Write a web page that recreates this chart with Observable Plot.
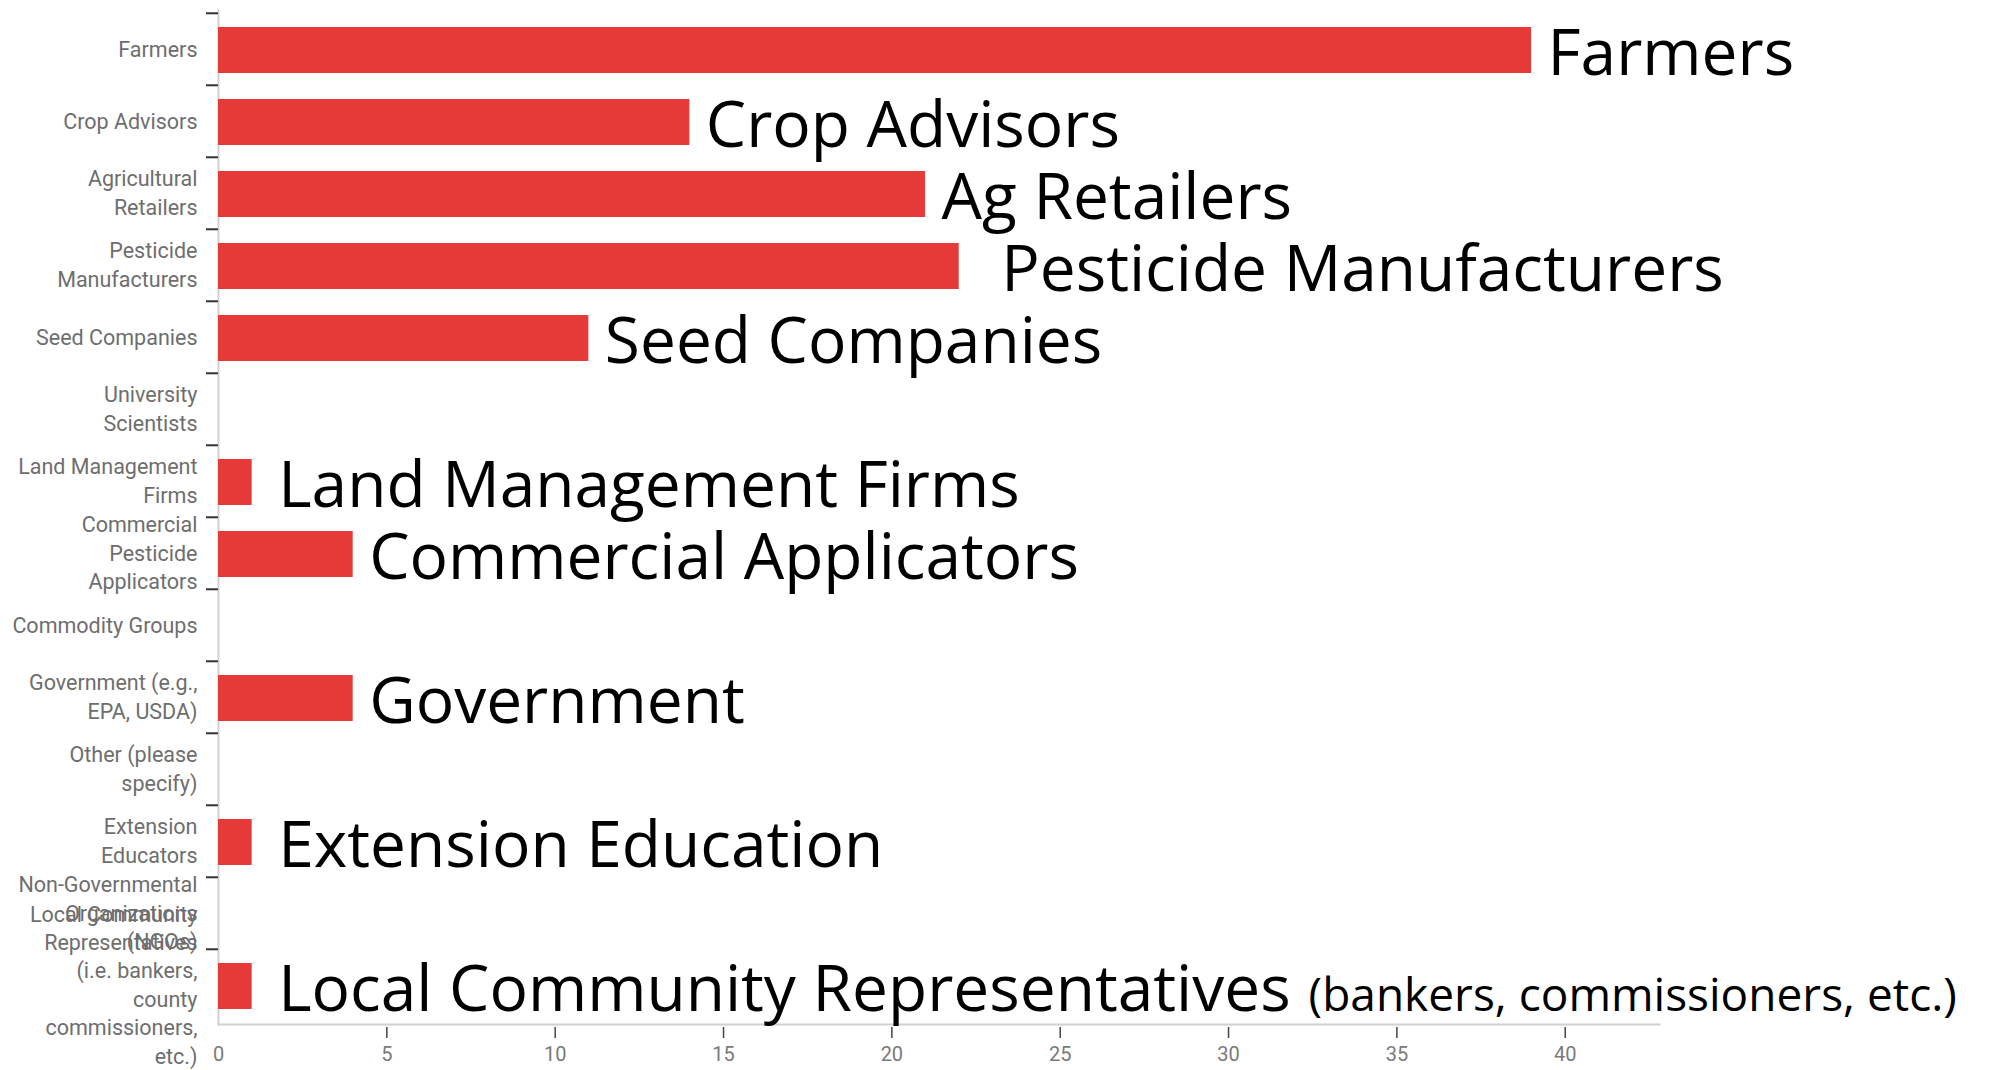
<!DOCTYPE html>
<html>
<head>
<meta charset="utf-8">
<script src="https://cdn.jsdelivr.net/npm/d3@7"></script>
<script src="https://cdn.jsdelivr.net/npm/@observablehq/plot@0.6"></script>
<style>
  html, body { margin: 0; padding: 0; background: #fff; }
  #chart svg { display: block; }
</style>
</head>
<body>
<div id="chart"></div>
<script>
const categories = [
  "Farmers",
  "Crop Advisors",
  "Agricultural Retailers",
  "Pesticide Manufacturers",
  "Seed Companies",
  "University Scientists",
  "Land Management Firms",
  "Commercial Pesticide Applicators",
  "Commodity Groups",
  "Government (e.g., EPA, USDA)",
  "Other (please specify)",
  "Extension Educators",
  "Non-Governmental Organizations (NGOs)",
  "Local Community Representatives (i.e. bankers, county commissioners, etc.)"
];
const values = [39, 14, 21, 22, 11, 0, 1, 4, 0, 4, 0, 1, 0, 1];
const tickLabels = [
  "Farmers",
  "Crop Advisors",
  "Agricultural\nRetailers",
  "Pesticide\nManufacturers",
  "Seed Companies",
  "University\nScientists",
  "Land Management\nFirms",
  "Commercial\nPesticide\nApplicators",
  "Commodity Groups",
  "Government (e.g.,\nEPA, USDA)",
  "Other (please\nspecify)",
  "Extension\nEducators",
  "Non-Governmental\nOrganizations\n(NGOs)",
  "Local Community\nRepresentatives\n(i.e. bankers,\ncounty\ncommissioners,\netc.)"
];
const annotations = [
  "Farmers", "Crop Advisors", "Ag Retailers", "Pesticide Manufacturers", "Seed Companies",
  "", "Land Management Firms", "Commercial Applicators", "", "Government", "",
  "Extension Education", "", "Local Community Representatives"
];
const annotationNotes = ["", "", "", "", "", "", "", "", "", "", "", "", "", "(bankers, commissioners, etc.)"];
const xTicks = [0, 5, 10, 15, 20, 25, 30, 35, 40];

const data = categories.map((c, i) => ({
  category: c, value: values[i], label: tickLabels[i],
  annotation: annotations[i], note: annotationNotes[i]
}));
const annotated = data.filter(d => d.annotation);
const wideGap = annotated.filter(d => d.category === "Pesticide Manufacturers");
const shortBars = annotated.filter(d => d.value <= 1);
const normalGap = annotated.filter(d => d.category !== "Pesticide Manufacturers" && d.value > 1);

const W = 1998, H = 1070;
const mTop = 10, mBottom = 46, mLeft = 218, mRight = 339;
const step = (H - mTop - mBottom) / categories.length;

const red = "#e53a37";
const annoFont = 64;
const annoStyle = {
  x: "value", y: "category", text: "annotation",
  textAnchor: "start", fontSize: annoFont, fontFamily: "Open Sans", fill: "#000",
  dy: 5
};

const svg = Plot.plot({
  width: W, height: H,
  marginTop: mTop, marginBottom: mBottom, marginLeft: mLeft, marginRight: mRight,
  style: { fontFamily: "Roboto", background: "#fff" },
  x: { domain: [0, 42.8], label: null },
  y: { domain: categories, padding: 0, label: null },
  marks: [
    Plot.frame({ anchor: "bottom", stroke: "#d0d0d0", strokeWidth: 2 }),
    Plot.frame({ anchor: "left", stroke: "#d0d0d0", strokeWidth: 2 }),
    Plot.barX(data, { x: "value", y: "category", fill: red, insetTop: 14, insetBottom: 12 }),
    Plot.axisY({ tickSize: 12, text: null, label: null, dy: -step / 2, stroke: "#333", strokeWidth: 2 }),
    Plot.axisY({
      tickSize: 0, tickPadding: 21, label: null, dy: -2,
      tickFormat: d => tickLabels[categories.indexOf(d)],
      fontSize: 21.5, lineHeight: 1.32, fill: "#6e6e6e"
    }),
    Plot.axisX({ ticks: xTicks, tickSize: 0, tickPadding: 22, label: null, fontSize: 20, fill: "#7a7a7a", tickFormat: d => String(d) }),
    Plot.axisX({ ticks: xTicks.filter(d => d > 0), tickSize: 11, text: null, label: null, dy: 3, stroke: "#444", strokeWidth: 1.5 }),
    Plot.text(normalGap, { ...annoStyle, dx: 16 }),
    Plot.text(shortBars, { ...annoStyle, dx: 26 }),
    Plot.text(wideGap, { ...annoStyle, dx: 42 })
  ]
});

// append the smaller note to its annotation
d3.select(svg).selectAll("text").each(function () {
  const t = this.textContent;
  const row = data.find(d => d.annotation === t && d.note);
  if (row) {
    d3.select(this).append("tspan")
      .attr("font-size", 46)
      .attr("dx", 6)
      .text(" " + row.note);
  }
});

document.getElementById("chart").appendChild(svg);
</script>
</body>
</html>
